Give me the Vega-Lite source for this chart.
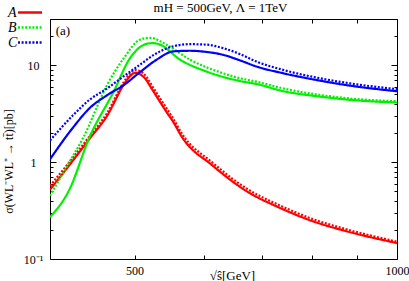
{
  "$schema": "https://vega.github.io/schema/vega-lite/v6.json",
  "width": 347,
  "height": 240,
  "autosize": "none",
  "padding": {"left": 50, "top": 19, "right": 12, "bottom": 22},
  "background": "white",
  "config": {
    "view": {"stroke": "black", "strokeWidth": 1},
    "font": "Liberation Serif",
    "axis": {"labelFont": "Liberation Serif", "titleFont": "Liberation Serif", "labelFontSize": 12, "titleFontSize": 12, "labelColor": "black", "titleColor": "black", "tickColor": "black", "titleFontWeight": "normal", "domain": false, "grid": false, "labelFlush": false, "labelOverlap": false}
  },
  "title": {"text": "mH = 500GeV, Λ = 1TeV", "font": "Liberation Serif", "fontSize": 13, "fontWeight": "normal", "anchor": "middle", "offset": 3, "dx": -3, "dy": 13, "color": "black"},
  "data": {"values": [
    {"m":"A","k":"s","x":400,"y":0.52},{"m":"A","k":"s","x":421,"y":0.93},{"m":"A","k":"s","x":444,"y":1.74},{"m":"A","k":"s","x":465,"y":3.0},{"m":"A","k":"s","x":486,"y":6.3},{"m":"A","k":"s","x":494,"y":7.7},{"m":"A","k":"s","x":501,"y":8.35},{"m":"A","k":"s","x":507,"y":8.1},{"m":"A","k":"s","x":516,"y":7.0},{"m":"A","k":"s","x":521,"y":6.1},{"m":"A","k":"s","x":544,"y":3.3},{"m":"A","k":"s","x":554,"y":2.59},{"m":"A","k":"s","x":566,"y":1.85},{"m":"A","k":"s","x":615,"y":0.916},{"m":"A","k":"s","x":672,"y":0.502},{"m":"A","k":"s","x":734,"y":0.337},{"m":"A","k":"s","x":801,"y":0.245},{"m":"A","k":"s","x":876,"y":0.193},{"m":"A","k":"s","x":1000,"y":0.146},
    {"m":"A","k":"d","x":400,"y":0.57},{"m":"A","k":"d","x":421,"y":1.0},{"m":"A","k":"d","x":444,"y":1.85},{"m":"A","k":"d","x":465,"y":3.2},{"m":"A","k":"d","x":486,"y":6.7},{"m":"A","k":"d","x":494,"y":8.2},{"m":"A","k":"d","x":501,"y":8.9},{"m":"A","k":"d","x":507,"y":8.7},{"m":"A","k":"d","x":516,"y":7.6},{"m":"A","k":"d","x":521,"y":6.6},{"m":"A","k":"d","x":544,"y":3.6},{"m":"A","k":"d","x":554,"y":2.8},{"m":"A","k":"d","x":566,"y":2.0},{"m":"A","k":"d","x":615,"y":0.98},{"m":"A","k":"d","x":672,"y":0.535},{"m":"A","k":"d","x":734,"y":0.357},{"m":"A","k":"d","x":801,"y":0.258},{"m":"A","k":"d","x":876,"y":0.202},{"m":"A","k":"d","x":1000,"y":0.151},
    {"m":"B","k":"s","x":400,"y":0.27},{"m":"B","k":"s","x":421,"y":0.52},{"m":"B","k":"s","x":444,"y":1.81},{"m":"B","k":"s","x":473,"y":5.3},{"m":"B","k":"s","x":494,"y":11.8},{"m":"B","k":"s","x":516,"y":16.6},{"m":"B","k":"s","x":525,"y":16.9},{"m":"B","k":"s","x":535,"y":16.3},{"m":"B","k":"s","x":564,"y":11.4},{"m":"B","k":"s","x":605,"y":8.59},{"m":"B","k":"s","x":661,"y":6.86},{"m":"B","k":"s","x":690,"y":6.4},{"m":"B","k":"s","x":741,"y":5.39},{"m":"B","k":"s","x":809,"y":4.79},{"m":"B","k":"s","x":884,"y":4.39},{"m":"B","k":"s","x":1000,"y":4.12},
    {"m":"B","k":"d","x":400,"y":0.45},{"m":"B","k":"d","x":421,"y":1.0},{"m":"B","k":"d","x":437,"y":1.81},{"m":"B","k":"d","x":465,"y":6.24},{"m":"B","k":"d","x":486,"y":11.8},{"m":"B","k":"d","x":507,"y":18.3},{"m":"B","k":"d","x":521,"y":19.2},{"m":"B","k":"d","x":544,"y":16.3},{"m":"B","k":"d","x":579,"y":11.4},{"m":"B","k":"d","x":632,"y":8.25},{"m":"B","k":"d","x":661,"y":7.32},{"m":"B","k":"d","x":690,"y":6.77},{"m":"B","k":"d","x":741,"y":5.75},{"m":"B","k":"d","x":809,"y":4.99},{"m":"B","k":"d","x":884,"y":4.53},{"m":"B","k":"d","x":1000,"y":4.25},
    {"m":"C","k":"s","x":400,"y":1.07},{"m":"C","k":"s","x":425,"y":2.27},{"m":"C","k":"s","x":444,"y":3.6},{"m":"C","k":"s","x":465,"y":4.9},{"m":"C","k":"s","x":486,"y":6.24},{"m":"C","k":"s","x":507,"y":8.45},{"m":"C","k":"s","x":530,"y":11.4},{"m":"C","k":"s","x":554,"y":13.9},{"m":"C","k":"s","x":579,"y":14.1},{"m":"C","k":"s","x":605,"y":13.7},{"m":"C","k":"s","x":632,"y":12.8},{"m":"C","k":"s","x":661,"y":11.2},{"m":"C","k":"s","x":690,"y":9.7},{"m":"C","k":"s","x":741,"y":8.25},{"m":"C","k":"s","x":809,"y":7.03},{"m":"C","k":"s","x":884,"y":6.15},{"m":"C","k":"s","x":1000,"y":5.39},
    {"m":"C","k":"d","x":400,"y":1.67},{"m":"C","k":"d","x":425,"y":3.04},{"m":"C","k":"d","x":444,"y":4.4},{"m":"C","k":"d","x":465,"y":5.75},{"m":"C","k":"d","x":486,"y":7.7},{"m":"C","k":"d","x":507,"y":10.1},{"m":"C","k":"d","x":530,"y":13.3},{"m":"C","k":"d","x":554,"y":15.7},{"m":"C","k":"d","x":579,"y":16.5},{"m":"C","k":"d","x":605,"y":16.3},{"m":"C","k":"d","x":632,"y":15.0},{"m":"C","k":"d","x":661,"y":13.0},{"m":"C","k":"d","x":690,"y":10.9},{"m":"C","k":"d","x":741,"y":8.93},{"m":"C","k":"d","x":809,"y":7.45},{"m":"C","k":"d","x":884,"y":6.49},{"m":"C","k":"d","x":1000,"y":5.66}
  ]},
  "layer": [
    {
      "mark": {"type": "line", "clip": true, "interpolate": "monotone", "strokeWidth": 2.2},
      "encoding": {
        "x": {"field": "x", "type": "quantitative", "scale": {"type": "log", "domain": [400, 1000], "nice": false},
          "axis": {"orient": "bottom", "values": [500, 600, 700, 800, 900, 1000], "format": "d", "labelExpr": "datum.value == 500 || datum.value == 1000 ? datum.label : ''", "tickSize": -4, "labelPadding": 10, "title": "√ŝ[GeV]", "titleX": 182, "titleY": 16, "titleBaseline": "middle", "titleFontSize": 13}},
        "y": {"field": "y", "type": "quantitative", "scale": {"type": "log", "domain": [0.1, 30], "nice": false},
          "axis": {"orient": "left", "values": [0.1,0.2,0.3,0.4,0.5,0.6,0.7,0.8,0.9,1,2,3,4,5,6,7,8,9,10,20,30], "labelExpr": "datum.value == 0.1 ? '10⁻¹' : datum.value == 1 ? '1' : datum.value == 10 ? '10' : ''", "tickSize": {"condition": {"test": "datum.value == 0.1 || datum.value == 1 || datum.value == 10", "value": -6}, "value": -3}, "labelAlign": "center", "labelBaseline": "middle", "labelPadding": 23, "title": "σ(WL⁻WL⁺ → tt̄)[pb]", "titleX": -42, "titleY": 142, "titleBaseline": "middle"}},
        "color": {"field": "m", "type": "nominal", "scale": {"domain": ["A", "B", "C"], "range": ["#ff0000", "#00f000", "#0000ff"]},
          "legend": {"orient": "none", "legendX": -44, "legendY": -14, "title": null, "symbolType": "M-2,0H2", "symbolSize": 144, "symbolStrokeWidth": 2.5, "labelFont": "Liberation Serif", "labelFontSize": 14, "labelFontStyle": "italic", "labelColor": "black", "rowPadding": 0, "padding": 0,
            "encode": {"symbols": {"update": {"x": {"value": 24}, "strokeDash": {"signal": "datum.value === 'A' ? [1,0] : [2,1.6]"}}}, "labels": {"update": {"x": {"value": 2}}}}}},
        "strokeDash": {"field": "k", "type": "nominal", "scale": {"domain": ["s", "d"], "range": [[1, 0], [2, 1.6]]}, "legend": null}
      }
    },
    {
      "mark": {"type": "line", "opacity": 0},
      "encoding": {
        "x": {"field": "x", "type": "quantitative", "axis": {"orient": "top", "values": [500, 600, 700, 800, 900], "labels": false, "tickSize": -4, "title": null}},
        "y": {"field": "y", "type": "quantitative", "axis": {"orient": "right", "values": [0.1,0.2,0.3,0.4,0.5,0.6,0.7,0.8,0.9,1,2,3,4,5,6,7,8,9,10,20,30], "labels": false, "tickSize": {"condition": {"test": "datum.value == 0.1 || datum.value == 1 || datum.value == 10", "value": -6}, "value": -3}, "title": null}},
        "detail": {"field": "m"}
      }
    },
    {
      "data": {"values": [{}]},
      "mark": {"type": "text", "align": "left", "baseline": "middle", "font": "Liberation Serif", "fontSize": 13, "color": "black"},
      "encoding": {
        "x": {"datum": 406, "type": "quantitative", "axis": null},
        "y": {"datum": 22.6, "type": "quantitative", "axis": null},
        "text": {"value": "(a)"}
      }
    }
  ],
  "resolve": {"axis": {"x": "independent", "y": "independent"}}
}
